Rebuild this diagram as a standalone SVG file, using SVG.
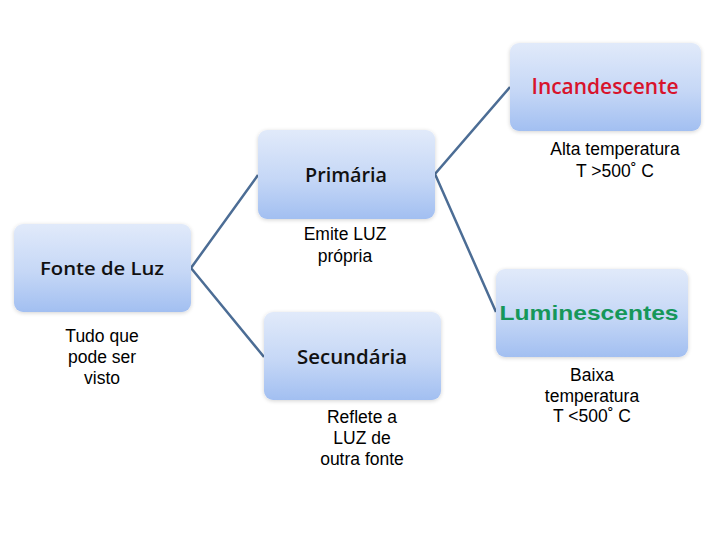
<svg xmlns="http://www.w3.org/2000/svg" width="720" height="540" viewBox="0 0 720 540">
<defs>
<linearGradient id="g" x1="0" y1="0" x2="0" y2="1">
<stop offset="0" stop-color="#e1eafa"/>
<stop offset="0.55" stop-color="#c5d7f6"/>
<stop offset="1" stop-color="#a2bff1"/>
</linearGradient>
<filter id="sh" x="-10%" y="-10%" width="120%" height="130%">
<feGaussianBlur in="SourceAlpha" stdDeviation="2"/>
<feOffset dx="0" dy="1" result="b"/>
<feComponentTransfer><feFuncA type="linear" slope="0.18"/></feComponentTransfer>
<feMerge><feMergeNode/><feMergeNode in="SourceGraphic"/></feMerge>
</filter>
<style>
.box{fill:url(#g);filter:url(#sh)}
.lbl{font-family:"Open Sans","Liberation Sans",sans-serif;font-weight:600;font-size:19px;fill:#111;text-anchor:middle}
.sub{font-family:"Liberation Sans",Arial,sans-serif;font-size:17.5px;fill:#000;text-anchor:middle}
.con{fill:none;stroke:#4c6d95;stroke-width:2.5;stroke-linejoin:miter}
</style>
</defs>
<rect width="720" height="540" fill="#fff"/>
<g id="connectors">
<polyline class="con" points="258,175 191,268 264,357"/>
<polyline class="con" points="510,87 435,174 496,312"/>
</g>
<g id="fonte">
<rect class="box" x="14" y="224" width="177" height="88" rx="9"/>
<text class="lbl" x="102" y="275" style="font-size:18px" textLength="124" lengthAdjust="spacingAndGlyphs">Fonte de Luz</text>
<text class="sub"><tspan x="102" y="342">Tudo que</tspan><tspan x="102" y="363">pode ser</tspan><tspan x="102" y="384">visto</tspan></text>
</g>
<g id="primaria">
<rect class="box" x="258" y="130" width="177" height="89" rx="9"/>
<text class="lbl" x="346" y="182" textLength="82" lengthAdjust="spacingAndGlyphs">Primária</text>
<text class="sub"><tspan x="345" y="240">Emite LUZ</tspan><tspan x="345" y="262">própria</tspan></text>
</g>
<g id="secundaria">
<rect class="box" x="264" y="312" width="177" height="88" rx="9"/>
<text class="lbl" x="352" y="364" textLength="110" lengthAdjust="spacingAndGlyphs">Secundária</text>
<text class="sub"><tspan x="362" y="423">Reflete a</tspan><tspan x="362" y="444">LUZ de</tspan><tspan x="362" y="465">outra fonte</tspan></text>
</g>
<g id="incandescente">
<rect class="box" x="510" y="43" width="191" height="88" rx="9"/>
<text class="lbl" x="605" y="94" style="fill:#d8132c;font-size:21px" textLength="147" lengthAdjust="spacingAndGlyphs">Incandescente</text>
<text class="sub"><tspan x="615" y="155">Alta temperatura</tspan><tspan x="615" y="177">T &gt;500˚ C</tspan></text>
</g>
<g id="luminescentes">
<rect class="box" x="496" y="269" width="192" height="88" rx="9"/>
<text x="589" y="320" style="font-family:'Liberation Sans',Arial,sans-serif;font-weight:bold;font-size:21px;fill:#16975a;text-anchor:middle" textLength="179" lengthAdjust="spacingAndGlyphs">Luminescentes</text>
<text class="sub"><tspan x="592" y="381">Baixa</tspan><tspan x="592" y="402">temperatura</tspan><tspan x="592" y="422">T &lt;500˚ C</tspan></text>
</g>
</svg>
